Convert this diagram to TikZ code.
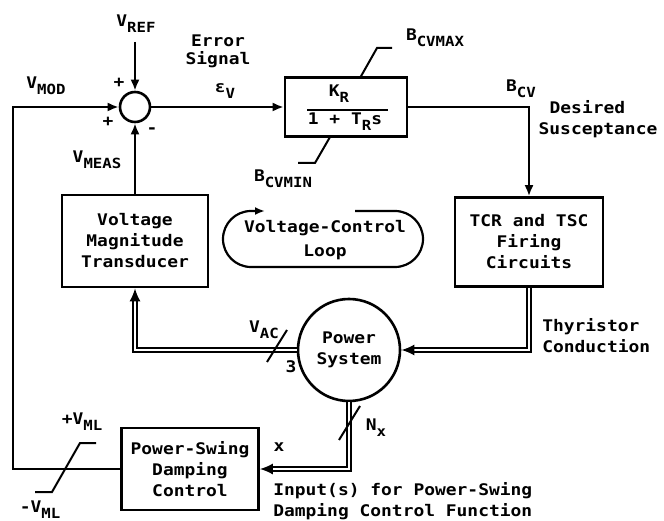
\documentclass[tikz,border=0pt]{standalone}
\usepackage{fontspec}
\setmainfont[FakeStretch=1.12]{DejaVu Sans Mono}
\usetikzlibrary{arrows.meta, positioning}

\newcommand{\dn}[1]{\raisebox{-6pt}{\fontsize{14}{14}\selectfont #1}}

\begin{document}
\begin{tikzpicture}[
    x=1pt, y=-1pt,
    line width=2.6pt,
    font=\fontsize{16}{21}\selectfont\bfseries,
    block/.style={rectangle, draw, align=center, inner sep=2pt},
    sumnode/.style={circle, draw, minimum size=30pt, inner sep=0pt},
    txt/.style={inner sep=0pt, align=center},
    tick/.style={line width=2pt},
    arrow/.style={-{Latex[length=11pt, width=9pt]}},
    dblarrow/.style={double, double distance=2.5pt, line width=1.8pt, -{Latex[length=13pt, width=11pt]}}
]
\useasboundingbox (0,0) rectangle (664,521);

\node (sum) [sumnode] at (135,107) {};
\node (ctrl) [block, minimum width=122pt, minimum height=59pt] at (346,107) {};
\node (tcr) [block, minimum width=148pt, minimum height=89pt] at (529,242) {TCR and TSC\\Firing\\Circuits};
\node (vmt) [block, minimum width=146pt, minimum height=92pt] at (135,241) {Voltage\\Magnitude\\Transducer};
\node (psys) [circle, draw, minimum size=102pt, inner sep=0pt, align=center] at (349,350) {Power\\System};
\node (psd) [block, minimum width=137pt, minimum height=82pt] at (190,469) {Power-Swing\\Damping\\Control};
\coordinate (vref) at (135,42);
\coordinate (lft) at (13,469);

% gain block
\node (kr) [txt] at (339,94) {K\dn{R}};
\node (den) [txt] at (345,122) {1 + T\dn{R}s};
\draw (307,110) -- (388,110);

% signals
\draw [arrow] (vref) -- (sum);
\draw [arrow] (sum) -- (ctrl);
\draw [arrow] (ctrl) -| (tcr);
\draw [arrow] (vmt) -- (sum);
\draw [arrow] (psd.west) -- (lft) |- (sum);
\draw [dblarrow] (tcr) |- (psys);
\draw [dblarrow] (psys) -| (vmt);
\draw [dblarrow] (psys) |- (psd);

% limits and bus ticks
\draw [tick] (360,78) -- (377,48) -- (392,48);
\draw [tick] (330,137) -- (315,163) -- (298,163);
\draw [tick] (267,362) -- (287,330);
\draw [tick] (339,440) -- (360,406);
\draw [tick] (35,492) -- (52,492) -- (80,443) -- (96,443);

% voltage-control loop
\draw [line width=2.2pt, rounded corners=28pt, -{Latex[length=10pt, width=8pt]}] (355,211) -- (423,211) -- (423,267) -- (223,267) -- (223,211) -- (265,211);
\node (loopnote) [txt] at (325,240) {Voltage-Control\\[3pt]Loop};

% labels
\node [txt] at (136,24) {V\dn{REF}};
\node [txt] at (119,83) {+};
\node [txt] at (108,122) {+};
\node [txt] at (152,131) {-};
\node [txt] at (46,86) {V\dn{MOD}};
\node [txt] at (97,160) {V\dn{MEAS}};
\node [txt] at (218,51) {Error\\[-3pt]Signal};
\node [txt] at (225,91) {ε\dn{V}};
\node [txt] at (435,38) {B\dn{CVMAX}};
\node [txt] at (283,179) {B\dn{CVMIN}};
\node [txt] at (521,89) {B\dn{CV}};
\node [txt, align=left] at (598,119) {\hspace*{11pt}Desired\\Susceptance};
\node [txt, align=left, anchor=west] at (541,336) {Thyristor\\Conduction};
\node [txt] at (264,330) {V\dn{AC}};
\node [txt] at (291,367) {3};
\node [txt] at (376,428) {N\dn{x}};
\node [txt] at (279,447) {x};
\node [txt] at (82,422) {+V\dn{ML}};
\node [txt] at (40,510) {-V\dn{ML}};
\node [txt, align=left, anchor=north west] at (272,481) {Input(s) for Power-Swing\\Damping Control Function};

\end{tikzpicture}
\end{document}
